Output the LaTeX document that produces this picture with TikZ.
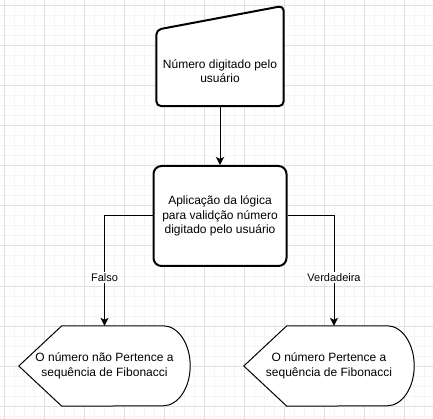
\documentclass[tikz,border=0pt]{standalone}
\usepackage{fontspec}
\setmainfont{Liberation Sans}
\usetikzlibrary{arrows.meta,calc}
\begin{document}
\begin{tikzpicture}[x=1pt,y=-1pt,
  minorgrid/.style={draw=black!4,line width=1pt},
  majorgrid/.style={draw=black!12,line width=1pt},
  txt/.style={align=center,font=\fontsize{12}{14.4}\selectfont,inner sep=0pt},
  thickshape/.style={draw=black,fill=white,line width=2pt,rounded corners=5pt},
  thinshape/.style={draw=black,fill=white,line width=1pt},
  conn/.style={draw=black,line width=1pt,-{Stealth[length=8pt,width=8pt,inset=2pt]}},
  lbl/.style={fill=white,inner sep=1pt,font=\fontsize{11}{13}\selectfont}
]
\useasboundingbox (0,0) rectangle (433,419);
\fill[white] (0,0) rectangle (433,419);
% grid
\foreach \x in {4,14,...,434} \draw[minorgrid] (\x,0) -- (\x,419);
\foreach \y in {6,16,...,416} \draw[minorgrid] (0,\y) -- (433,\y);
\foreach \x in {4,44,...,404} \draw[majorgrid] (\x,0) -- (\x,419);
\foreach \y in {6,46,...,406} \draw[majorgrid] (0,\y) -- (433,\y);

% manual input
\node[minimum width=127pt,minimum height=100pt,inner sep=0pt] (inp) at (220,56) {};
\draw[thickshape] (inp.north east) -- (inp.south east) -- (inp.south west) -- ($(inp.north west)+(0,24)$) -- cycle;
\node[txt] (inptxt) at ($(inp.center)+(0,15)$) {Número digitado pelo\\usuário};

% process
\node[txt,draw=black,fill=white,line width=2pt,rounded corners=8pt,minimum width=133pt,minimum height=100pt] (proc) at (220,216) {Aplicação da lógica\\para validção número\\digitado pelo usuário};

% displays
\node[minimum width=171pt,minimum height=80pt,inner sep=0pt] (out1) at (104.5,366) {};
\draw[thinshape] (out1.west) -- ($(out1.north west)+(43,0)$) -- ($(out1.north east)+(-27,0)$) arc[start angle=90,end angle=-90,x radius=27pt,y radius=40pt] -- ($(out1.south west)+(43,0)$) -- cycle;
\node[txt] at (out1.center) {O número não Pertence a\\sequência de Fibonacci};

\node[minimum width=170pt,minimum height=80pt,inner sep=0pt] (out2) at (329,366) {};
\draw[thinshape] (out2.west) -- ($(out2.north west)+(43,0)$) -- ($(out2.north east)+(-27,0)$) arc[start angle=90,end angle=-90,x radius=27pt,y radius=40pt] -- ($(out2.south west)+(43,0)$) -- cycle;
\node[txt] at (out2.center) {O número Pertence a\\sequência de Fibonacci};
\coordinate (t2) at ($(out2.north)+(5,0)$);

% connectors
\draw[conn] (inp.south) -- (proc.north);
\draw[conn] (proc.west) -| node[lbl,pos=0.78] {Falso} (out1.north);
\draw[conn] (proc.east) -| node[lbl,pos=0.78] {Verdadeira} (t2);
\end{tikzpicture}
\end{document}
